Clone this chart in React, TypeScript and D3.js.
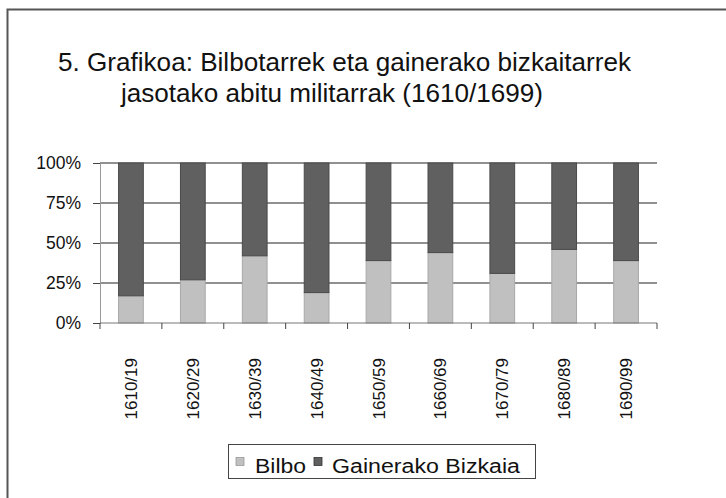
import React, { useRef, useEffect } from 'react';
import * as d3 from 'd3';

const periods = ['1610/19', '1620/29', '1630/39', '1640/49', '1650/59', '1660/69', '1670/79', '1680/89', '1690/99'];
const bilbo = [17, 27, 42, 19, 39, 44, 31, 46, 39];
const yTicks = [0, 25, 50, 75, 100];

const App = () => {
  const svgRef = useRef<SVGSVGElement>(null);

  useEffect(() => {
    document.body.style.margin = '0';
    const svg = d3.select(svgRef.current);
    svg.selectAll('*').remove();
    const width = 726;
    const height = 498;
    const margin = { top: 163, right: 69, bottom: 175, left: 100 };
    const font = '"Liberation Sans", Arial, sans-serif';

    svg.attr('width', width).attr('height', height).style('display', 'block');

    // frame (only top and left edges fall inside the picture)
    svg.append('rect')
      .attr('x', 7.5).attr('y', 9.5)
      .attr('width', width + 20).attr('height', height + 20)
      .attr('fill', '#fff').attr('stroke', '#555').attr('stroke-width', 2);

    const title = svg.append('text')
      .attr('font-family', font).attr('font-size', 25).attr('fill', '#111');
    title.append('tspan').attr('x', 58).attr('y', 71)
      .attr('textLength', 573).attr('lengthAdjust', 'spacingAndGlyphs')
      .text('5. Grafikoa: Bilbotarrek eta gainerako bizkaitarrek');
    title.append('tspan').attr('x', 121).attr('y', 102)
      .attr('textLength', 422).attr('lengthAdjust', 'spacingAndGlyphs')
      .text('jasotako abitu militarrak (1610/1699)');

    const x = d3.scaleBand()
      .domain(periods)
      .range([margin.left, width - margin.right])
      .paddingInner(0.6)
      .paddingOuter(0.3);

    const y = d3.scaleLinear()
      .domain([0, 100])
      .range([height - margin.bottom, margin.top]);

    // gridlines
    svg.append('g')
      .selectAll('line')
      .data(yTicks.slice(1))
      .join('line')
      .attr('x1', margin.left).attr('x2', width - margin.right)
      .attr('y1', d => y(d)).attr('y2', d => y(d))
      .attr('stroke', '#222').attr('stroke-width', 1);

    const yAxis = svg.append('g')
      .attr('transform', `translate(${margin.left},0)`)
      .call(d3.axisLeft(y).tickValues(yTicks).tickFormat(d => `${d}%`).tickSize(7).tickPadding(12));
    yAxis.select('.domain').attr('stroke', '#999');
    yAxis.selectAll('line').attr('stroke', '#444');
    yAxis.selectAll('text').attr('font-family', font).attr('font-size', 17.5).attr('fill', '#111');

    // stacked bars
    const g = svg.append('g');
    periods.forEach((p, i) => {
      g.append('rect')
        .attr('x', x(p)!).attr('width', x.bandwidth())
        .attr('y', y(bilbo[i])).attr('height', y(0) - y(bilbo[i]))
        .attr('fill', '#c0c0c0').attr('stroke', '#a8a8a8').attr('stroke-width', 1);
      g.append('rect')
        .attr('x', x(p)!).attr('width', x.bandwidth())
        .attr('y', y(100)).attr('height', y(bilbo[i]) - y(100))
        .attr('fill', '#606060').attr('stroke', '#4a4a4a').attr('stroke-width', 1);
    });

    // x axis
    const step = x.step();
    const x0 = margin.left;
    const xAxisG = svg.append('g');
    xAxisG.append('line')
      .attr('x1', x0).attr('x2', width - margin.right)
      .attr('y1', y(0)).attr('y2', y(0))
      .attr('stroke', '#777');
    xAxisG.selectAll('line.tick')
      .data(d3.range(periods.length + 1))
      .join('line')
      .attr('class', 'tick')
      .attr('x1', i => x0 + i * step).attr('x2', i => x0 + i * step)
      .attr('y1', y(0)).attr('y2', y(0) + 6)
      .attr('stroke', '#444');
    xAxisG.selectAll('text')
      .data(periods)
      .join('text')
      .attr('transform', d => `translate(${x(d)! + x.bandwidth() / 2 + 6},${y(0) + 35}) rotate(-90)`)
      .attr('text-anchor', 'end')
      .attr('font-family', font).attr('font-size', 17).attr('fill', '#111')
      .text(d => d);

    // legend
    const lg = svg.append('g');
    lg.append('rect')
      .attr('x', 228.5).attr('y', 444.5).attr('width', 307).attr('height', 34)
      .attr('fill', '#fff').attr('stroke', '#444');
    const items = [
      { label: 'Bilbo', color: '#c0c0c0', stroke: '#999', x: 236, tx: 255, tw: 51 },
      { label: 'Gainerako Bizkaia', color: '#606060', stroke: '#333', x: 314, tx: 332, tw: 188 }
    ];
    items.forEach(it => {
      lg.append('rect')
        .attr('x', it.x).attr('y', 457.5).attr('width', 8).attr('height', 8)
        .attr('fill', it.color).attr('stroke', it.stroke).attr('stroke-width', 0.8);
      lg.append('text')
        .attr('x', it.tx).attr('y', 473)
        .attr('textLength', it.tw).attr('lengthAdjust', 'spacingAndGlyphs')
        .attr('font-family', font).attr('font-size', 20).attr('fill', '#111')
        .text(it.label);
    });
  }, []);

  return <svg ref={svgRef}></svg>;
};

export default App;
